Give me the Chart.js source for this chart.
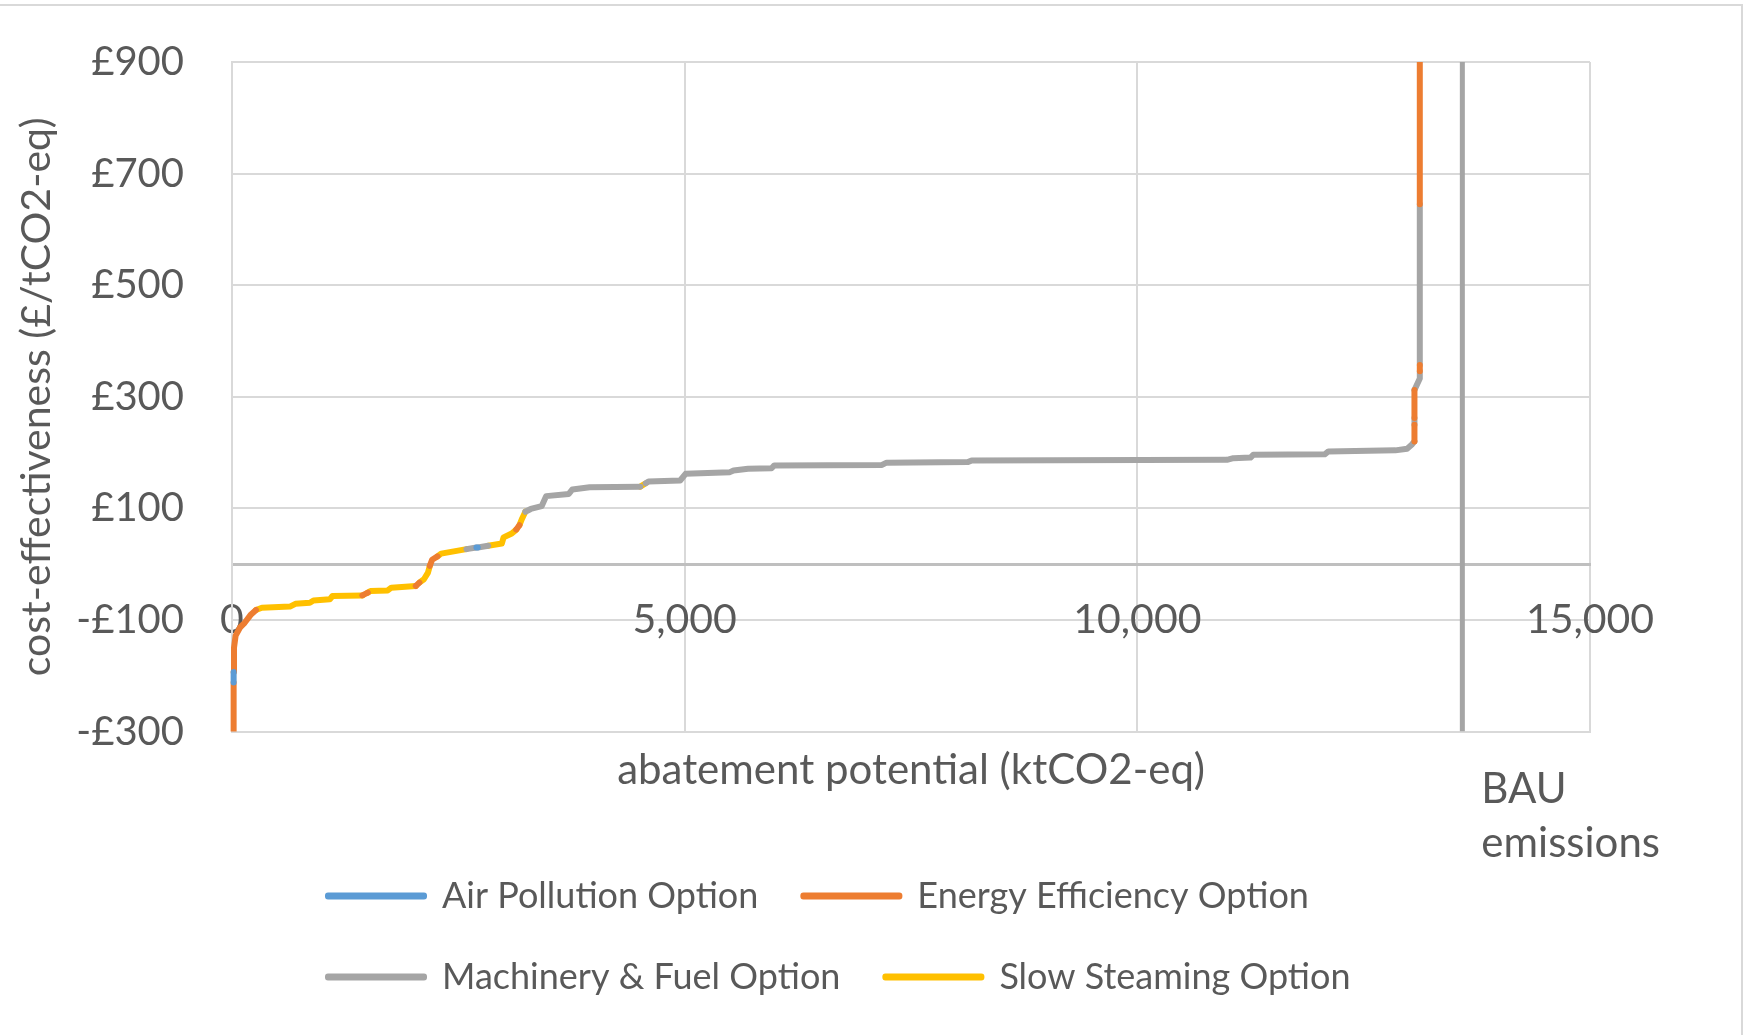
<!DOCTYPE html>
<html>
<head>
<meta charset="utf-8">
<script src="https://cdn.jsdelivr.net/npm/chart.js@4.4.1/dist/chart.umd.min.js"></script>
<style>
  html, body { margin: 0; padding: 0; background: #ffffff; overflow: hidden; }
  #wrap { position: relative; width: 1746px; height: 1035px; }
  #frame { position: absolute; left: -3px; top: 4px; width: 1746px; height: 1100px;
           border: 2px solid #d9d9d9; box-sizing: border-box; pointer-events: none; }
  canvas { position: absolute; left: 0; top: 0; }
</style>
</head>
<body>
<div id="wrap">
  <canvas id="chart" width="1746" height="1035"></canvas>
  <div id="frame"></div>
</div>
<script>
// cumulative abatement (ktCO2-eq) and cost-effectiveness (£/tCO2-eq) of each breakpoint
const abatement = [18, 18, 18, 22, 40, 90, 140, 210, 265, 330, 640, 700, 860, 900, 1080, 1110,
  1440, 1500, 1530, 1720, 1760, 2030, 2070, 2120, 2165, 2185, 2210, 2270, 2310, 2590, 2700, 2715,
  2830, 2980, 3000, 3090, 3140, 3175, 3205, 3240, 3300, 3420, 3470, 3720, 3760, 3950, 4510, 4570,
  4600, 4950, 5010, 5500, 5540, 5700, 5960, 5990, 7180, 7230, 8130, 8170, 10990, 11060, 11250,
  11280, 12070, 12110, 12850, 12980, 13030, 13061, 13061, 13061, 13061, 13120, 13120, 13120,
  13120, 13120];
const cost = [-330, -212, -193, -150, -128, -113, -105, -90, -82, -78, -76, -71, -69, -65, -63, -57,
  -56, -51, -48, -47, -42, -39, -33, -27, -15, -3, 8, 14, 19, 27, 30, 30,
  33, 37, 48, 55, 62, 70, 82, 94, 99, 104, 122, 126, 134, 138, 139, 145,
  148, 150, 162, 165, 168, 171, 172, 177, 178, 182, 183, 186, 187, 190, 191,
  196, 197, 202, 204, 207, 214, 220, 250, 262, 312, 333, 346, 357,
  645, 1000];
// option type of the step that starts at each breakpoint
const option = ['E', 'A', 'E', 'E', 'E', 'E', 'E', 'E', 'S', 'S', 'S', 'S', 'S', 'S', 'S', 'S',
  'E', 'S', 'S', 'S', 'S', 'E', 'S', 'S', 'S', 'E', 'E', 'S', 'S', 'M', 'A', 'M',
  'S', 'S', 'S', 'S', 'E', 'S', 'S', 'M', 'M', 'M', 'M', 'M', 'M', 'M', 'S', 'M',
  'M', 'M', 'M', 'M', 'M', 'M', 'M', 'M', 'M', 'M', 'M', 'M', 'M', 'M', 'M',
  'M', 'M', 'M', 'M', 'M', 'M', 'E', 'M', 'E', 'M', 'M', 'E', 'M',
  'E', 'E'];

const optionCodes = ['A', 'E', 'M', 'S'];
const optionNames = ['Air Pollution Option', 'Energy Efficiency Option', 'Machinery & Fuel Option', 'Slow Steaming Option'];
const optionColors = ['#5b9bd5', '#ed7d31', '#a5a5a5', '#ffc000'];

const bauEmissions = 13590;
const bauLabel = ['BAU', 'emissions'];

const xTicks = [0, 5000, 10000, 15000];
const yTicks = [-300, -100, 100, 300, 500, 700, 900];

const textColor = '#595959';
const gridColor = '#d9d9d9';

function segmentsFor(code) {
    const pts = [];
    let last = -1;
    for (let i = 0; i < abatement.length - 1; i++) {
        if (option[i] !== code) continue;
        if (last !== i) {
            if (pts.length) pts.push({ x: abatement[i], y: null });
            pts.push({ x: abatement[i], y: cost[i] });
        }
        pts.push({ x: abatement[i + 1], y: cost[i + 1] });
        last = i + 1;
    }
    return pts;
}

const bauText = {
    id: 'bauText',
    afterDatasetsDraw(chart) {
        const ctx = chart.ctx;
        const px = chart.scales.x.getPixelForValue(bauEmissions);
        const bottom = chart.chartArea.bottom;
        ctx.save();
        ctx.font = '42px Lato';
        ctx.fillStyle = textColor;
        ctx.textAlign = 'left';
        ctx.textBaseline = 'middle';
        bauLabel.forEach((t, i) => ctx.fillText(t, px + 19, bottom + 58 + i * 54));
        ctx.restore();
    }
};

const legendShift = {
    id: 'legendShift',
    afterLayout(chart) {
        chart.legend.left += 51;
        chart.legend.right += 51;
    }
};

chartIt();

async function chartIt() {
    try { await document.fonts.load('40px Lato'); } catch (e) {}

    const datasets = optionCodes.map((code, i) => ({
        label: optionNames[i],
        data: segmentsFor(code),
        borderColor: optionColors[i],
        backgroundColor: optionColors[i],
        borderWidth: 6,
        borderJoinStyle: 'round',
        borderCapStyle: 'round',
        pointRadius: 0,
        spanGaps: false,
        tension: 0,
        clip: { left: 6, top: 0, right: 0, bottom: 0 }
    }));
    datasets.push({
        label: 'BAU emissions',
        data: [{ x: bauEmissions, y: yTicks[0] }, { x: bauEmissions, y: yTicks[yTicks.length - 1] }],
        borderColor: '#a5a5a5',
        borderWidth: 5,
        pointRadius: 0
    });

    const ctx = document.getElementById('chart').getContext('2d');
    new Chart(ctx, {
        type: 'line',
        data: { datasets },
        plugins: [bauText, legendShift],
        options: {
            responsive: false,
            animation: false,
            events: [],
            layout: { padding: { top: 62, right: 156, bottom: 30, left: 0 } },
            plugins: {
                tooltip: { enabled: false },
                legend: {
                    position: 'bottom',
                    align: 'start',
                    fullSize: false,
                    labels: {
                        font: { family: 'Lato', size: 36 },
                        color: textColor,
                        boxWidth: 96,
                        boxHeight: 1,
                        padding: 45,
                        filter: item => item.datasetIndex < optionCodes.length
                    }
                }
            },
            scales: {
                x: {
                    type: 'linear',
                    position: 'bottom',
                    min: xTicks[0],
                    max: xTicks[xTicks.length - 1],
                    ticks: { display: false, stepSize: 5000 },
                    grid: { color: gridColor, lineWidth: 2, drawTicks: false },
                    border: { color: gridColor, width: 2 },
                    title: {
                        display: true,
                        text: 'abatement potential (ktCO2-eq)',
                        color: textColor,
                        font: { family: 'Lato', size: 42 },
                        padding: { top: 14, bottom: 37 }
                    }
                },
                x2: {
                    type: 'linear',
                    position: { y: 0 },
                    min: xTicks[0],
                    max: xTicks[xTicks.length - 1],
                    afterBuildTicks: scale => { scale.ticks = xTicks.map(v => ({ value: v })); },
                    ticks: {
                        color: textColor,
                        font: { family: 'Lato', size: 41 },
                        padding: 31,
                        maxRotation: 0,
                        callback: v => v.toLocaleString('en-US')
                    },
                    grid: { display: false, drawTicks: false },
                    border: { color: '#bfbfbf', width: 3 }
                },
                y: {
                    type: 'linear',
                    position: 'left',
                    min: yTicks[0],
                    max: yTicks[yTicks.length - 1],
                    afterBuildTicks: scale => { scale.ticks = yTicks.map(v => ({ value: v })); },
                    afterFit: scale => { scale.width = 232; },
                    ticks: {
                        color: textColor,
                        font: { family: 'Lato', size: 40 },
                        padding: 0,
                        callback: v => (v < 0 ? '-£' : '£') + Math.abs(v)
                    },
                    grid: {
                        color: gridColor,
                        lineWidth: 2,
                        drawTicks: true,
                        tickLength: 48,
                        tickColor: 'rgba(0,0,0,0)'
                    },
                    border: { color: gridColor, width: 2 },
                    title: {
                        display: true,
                        text: 'cost-effectiveness (£/tCO2-eq)',
                        color: textColor,
                        font: { family: 'Lato', size: 41 },
                        padding: { top: 12, bottom: 0 }
                    }
                }
            }
        }
    });
}
</script>
</body>
</html>
